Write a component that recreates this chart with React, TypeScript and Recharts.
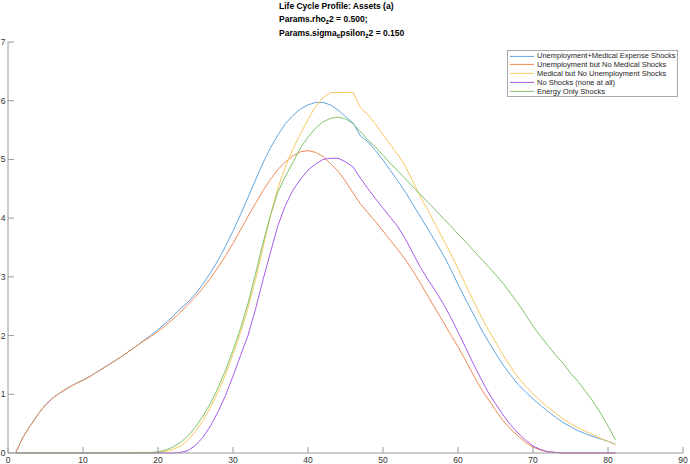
import { LineChart, Line, XAxis, YAxis, Legend } from 'recharts';

// age grid (x) and asset profiles for each shock scenario
const ages = [
  1, 2, 3, 4, 5, 6, 7, 8, 9, 10, 11, 12, 13, 14, 15, 16, 17, 18, 19, 20,
  21, 22, 23, 24, 25, 26, 27, 28, 29, 30, 31, 32, 33, 34, 35, 36, 37, 38, 39, 40,
  41, 42, 43, 44, 45, 46, 47, 48, 49, 50, 51, 52, 53, 54, 55, 56, 57, 58, 59, 60,
  61, 62, 63, 64, 65, 66, 67, 68, 69, 70, 71, 72, 73, 74, 75, 76, 77, 78, 79, 80, 81,
];

const unempMed = [
  0.0, 0.27, 0.47, 0.66, 0.82, 0.94, 1.03, 1.11, 1.18, 1.24,
  1.31, 1.39, 1.47, 1.55, 1.63, 1.72, 1.81, 1.91, 2.0, 2.1,
  2.21, 2.33, 2.46, 2.57, 2.71, 2.88, 3.07, 3.28, 3.52, 3.78,
  4.06, 4.35, 4.65, 4.94, 5.2, 5.42, 5.61, 5.75, 5.86, 5.93,
  5.97, 5.97, 5.93, 5.84, 5.73, 5.62, 5.4, 5.3, 5.15, 4.99,
  4.81, 4.63, 4.44, 4.23, 4.02, 3.81, 3.6, 3.38, 3.14, 2.87,
  2.62, 2.38, 2.13, 1.91, 1.7, 1.5, 1.33, 1.17, 1.04, 0.92,
  0.81, 0.71, 0.61, 0.52, 0.45, 0.38, 0.33, 0.28, 0.24, 0.2, 0.15,
];

const unempNoMed = [
  0.0, 0.27, 0.47, 0.66, 0.82, 0.94, 1.03, 1.11, 1.18, 1.24,
  1.31, 1.39, 1.47, 1.55, 1.63, 1.72, 1.81, 1.9, 1.98, 2.07,
  2.17, 2.28, 2.4, 2.53, 2.66, 2.81, 2.98, 3.16, 3.36, 3.57,
  3.8, 4.03, 4.25, 4.47, 4.66, 4.83, 4.96, 5.06, 5.13, 5.15,
  5.12, 5.05, 4.93, 4.8, 4.63, 4.43, 4.24, 4.09, 3.94, 3.78,
  3.62, 3.46, 3.29, 3.1, 2.89, 2.67, 2.45, 2.24, 2.02, 1.81,
  1.58, 1.34, 1.11, 0.92, 0.73, 0.55, 0.41, 0.29, 0.18, 0.1,
  0.05, 0.02, 0.01, 0, 0, 0, 0, 0, 0, 0, 0,
];

const medNoUnemp = [
  0, 0, 0, 0, 0, 0, 0, 0, 0, 0,
  0, 0, 0, 0, 0, 0, 0, 0, 0, 0.01,
  0.03, 0.06, 0.12, 0.22, 0.37, 0.55, 0.78, 1.04, 1.33, 1.68,
  2.05, 2.47, 2.95, 3.5, 4.05, 4.52, 4.88, 5.18, 5.44, 5.68,
  5.9, 6.05, 6.14, 6.14, 6.14, 6.14, 5.88, 5.76, 5.6, 5.42,
  5.25, 5.08, 4.88, 4.62, 4.36, 4.13, 3.89, 3.64, 3.4, 3.14,
  2.87, 2.61, 2.35, 2.11, 1.89, 1.67, 1.47, 1.29, 1.14, 1.01,
  0.89, 0.78, 0.68, 0.58, 0.5, 0.43, 0.37, 0.31, 0.25, 0.2, 0.14,
];

const noShocks = [
  0, 0, 0, 0, 0, 0, 0, 0, 0, 0,
  0, 0, 0, 0, 0, 0, 0, 0, 0, 0,
  0, 0, 0.01, 0.04, 0.13, 0.27, 0.46, 0.7, 0.98, 1.31,
  1.66, 2.0, 2.45, 2.95, 3.42, 3.88, 4.22, 4.48, 4.66, 4.82,
  4.92, 5.0, 5.02, 5.02, 4.96, 4.87, 4.68, 4.5, 4.33, 4.17,
  4.01, 3.85, 3.64, 3.4, 3.16, 2.95, 2.76, 2.55, 2.32, 2.06,
  1.8, 1.53, 1.28, 1.04, 0.84, 0.65, 0.48, 0.34, 0.22, 0.12,
  0.06, 0.02, 0.01, 0, 0, 0, 0, 0, 0, 0, 0,
];

const energyOnly = [
  0, 0, 0, 0, 0, 0, 0, 0, 0, 0,
  0, 0, 0, 0, 0, 0, 0.01, 0.01, 0.01, 0.02,
  0.05, 0.1, 0.18, 0.29, 0.44, 0.63, 0.85, 1.11, 1.41, 1.75,
  2.12, 2.55, 3.05, 3.58, 4.05, 4.45, 4.72, 4.95, 5.2, 5.38,
  5.53, 5.64, 5.7, 5.72, 5.69, 5.61, 5.47, 5.33, 5.21, 5.07,
  4.93, 4.8, 4.67, 4.53, 4.4, 4.27, 4.14, 4.0, 3.87, 3.73,
  3.6, 3.46, 3.32, 3.18, 3.04, 2.89, 2.72, 2.55, 2.36, 2.16,
  1.99, 1.83, 1.67, 1.53, 1.36, 1.22, 1.05, 0.88, 0.68, 0.46, 0.22,
];

const xTicks = [0, 10, 20, 30, 40, 50, 60, 70, 80, 90];
const yTicks = [0, 1, 2, 3, 4, 5, 6, 7];

const series = [
  { key: 'unempMed', name: 'Unemployment+Medical Expense Shocks', color: '#62a6e0', values: unempMed },
  { key: 'unempNoMed', name: 'Unemployment but No Medical Shocks', color: '#ef8a55', values: unempNoMed },
  { key: 'medNoUnemp', name: 'Medical but No Unemployment Shocks', color: '#f8c95e', values: medNoUnemp },
  { key: 'noShocks', name: 'No Shocks (none at all)', color: '#a85ae8', values: noShocks },
  { key: 'energyOnly', name: 'Energy Only Shocks', color: '#80c46c', values: energyOnly },
];

const data = ages.map((age, i) => {
  const row: Record<string, number> = { age };
  series.forEach((s) => {
    row[s.key] = s.values[i];
  });
  return row;
});

const FONT = '"Liberation Sans", Arial, sans-serif';
const AXIS = '#9a9a9a';
const LABEL = '#333333';
const TICK = 6;
const FS = 8.5;
const LEGEND_FS = 7.5;

const BottomTick = ({ x, y, payload }: any) => (
  <g>
    <line x1={x} x2={x} y1={y} y2={y - TICK} stroke={AXIS} />
    <text x={x} y={y + 10.4} textAnchor="middle" fontSize={FS} fontFamily={FONT} fill={LABEL}>
      {payload.value}
    </text>
  </g>
);

const TopTick = ({ x, y }: any) => <line x1={x} x2={x} y1={y} y2={y + TICK} stroke={AXIS} />;

const LeftTick = ({ x, y, payload }: any) => (
  <g>
    <line x1={x} x2={x + TICK} y1={y} y2={y} stroke={AXIS} />
    <text x={x - 2.5} y={y + 3} textAnchor="end" fontSize={FS} fontFamily={FONT} fill={LABEL}>
      {payload.value}
    </text>
  </g>
);

const RightTick = ({ x, y }: any) => <line x1={x} x2={x - TICK} y1={y} y2={y} stroke={AXIS} />;

function LegendBox() {
  return (
    <div
      style={{
        boxSizing: 'border-box',
        width: 171,
        border: '1px solid #a8a8a8',
        background: '#fff',
        padding: '0.5px 0',
        fontFamily: FONT,
        fontSize: LEGEND_FS,
        color: '#262626',
        overflow: 'hidden',
      }}
    >
      {series.map((s) => (
        <div key={s.key} style={{ display: 'flex', alignItems: 'center', height: 8.8, whiteSpace: 'nowrap' }}>
          <svg width={29} height={8.8} style={{ flex: 'none' }}>
            <line x1={2} x2={26} y1={4.4} y2={4.4} stroke={s.color} strokeWidth={1} />
          </svg>
          <span>{s.name}</span>
        </div>
      ))}
    </div>
  );
}

function Title() {
  return (
    <svg
      width={690}
      height={42}
      style={{ position: 'absolute', left: 0, top: 0, pointerEvents: 'none' }}
      fontFamily={FONT}
      fontWeight="bold"
      fontSize={FS}
      fill="#000"
    >
      <text x={279} y={9.3}>Life Cycle Profile: Assets (a)</text>
      <text x={279} y={21.5}>
        Params.rho
        <tspan dy={2.5} fontSize={6.5}>z</tspan>
        <tspan dy={-2.5}>2 = 0.500;</tspan>
      </text>
      <text x={279} y={35.5}>
        Params.sigma
        <tspan dy={2.5} fontSize={6.5}>e</tspan>
        <tspan dy={-2.5}>psilon</tspan>
        <tspan dy={2.5} fontSize={6.5}>z</tspan>
        <tspan dy={-2.5}>2 = 0.150</tspan>
      </text>
    </svg>
  );
}

export default function App() {
  return (
    <div style={{ position: 'absolute', left: 0, top: 0, width: 690, height: 464, background: '#fff' }}>
      <LineChart width={690} height={464} data={data} margin={{ top: 42, right: 7, bottom: 0, left: 0 }}>
        <XAxis
          dataKey="age"
          type="number"
          domain={[0, 90]}
          ticks={xTicks}
          height={11}
          tickSize={0}
          tickMargin={0}
          stroke={AXIS}
          tick={<BottomTick />}
          interval={0}
        />
        <XAxis
          xAxisId="top"
          orientation="top"
          dataKey="age"
          type="number"
          domain={[0, 90]}
          ticks={xTicks}
          height={0}
          tickSize={0}
          tickMargin={0}
          stroke={AXIS}
          tick={<TopTick />}
          interval={0}
        />
        <YAxis
          type="number"
          domain={[0, 7]}
          ticks={yTicks}
          width={8}
          tickSize={0}
          tickMargin={0}
          stroke={AXIS}
          tick={<LeftTick />}
          interval={0}
        />
        <YAxis
          yAxisId="right"
          orientation="right"
          type="number"
          domain={[0, 7]}
          ticks={yTicks}
          width={0}
          tickSize={0}
          tickMargin={0}
          stroke={AXIS}
          tick={<RightTick />}
          interval={0}
        />
        {series.map((s) => (
          <Line
            key={s.key}
            type="linear"
            dataKey={s.key}
            name={s.name}
            stroke={s.color}
            strokeWidth={1}
            dot={false}
            activeDot={false}
            isAnimationActive={false}
          />
        ))}
        <Legend
          layout="horizontal"
          verticalAlign="middle"
          align="center"
          wrapperStyle={{ top: 50, left: 507, width: 171, height: 'auto' }}
          content={() => <LegendBox />}
        />
      </LineChart>
      <Title />
    </div>
  );
}
